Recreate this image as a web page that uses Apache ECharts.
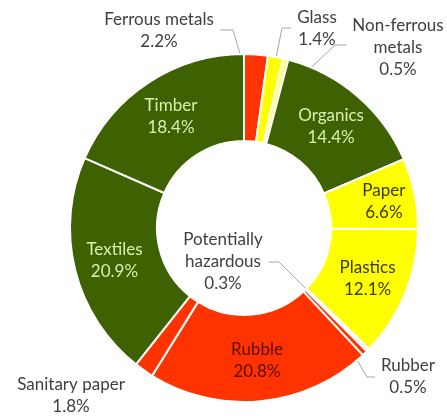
<!DOCTYPE html>
<html>
<head>
<meta charset="utf-8">
<script src="https://cdn.jsdelivr.net/npm/echarts@6/dist/echarts.min.js"></script>
<style>
  html, body { margin: 0; padding: 0; background: #ffffff; }
  #main { width: 447px; height: 416px; }
</style>
</head>
<body>
<div id="main"></div>
<script>
// Waste composition, share of total mass (%)
const categories = [
  'Ferrous metals', 'Glass', 'Non-ferrous metals', 'Organics', 'Paper', 'Plastics',
  'Potentially hazardous', 'Rubber', 'Rubble', 'Sanitary paper', 'Textiles', 'Timber'
];
const shares = [2.2, 1.4, 0.5, 14.4, 6.6, 12.1, 0.3, 0.5, 20.8, 1.8, 20.9, 18.4];
// Category names as they are printed (line breaks included)
const labelNames = [
  'Ferrous metals', 'Glass', 'Non-ferrous\nmetals', 'Organics', 'Paper', 'Plastics',
  'Potentially\nhazardous', 'Rubber', 'Rubble', 'Sanitary paper', 'Textiles', 'Timber'
];

// ---- styling ----
const GREEN = '#3e6101', RED = '#ff3300', YELLOW = '#ffff00';
const sliceColors = {
  'Ferrous metals': RED, 'Glass': YELLOW, 'Non-ferrous metals': '#ffff7a',
  'Organics': GREEN, 'Paper': YELLOW, 'Plastics': YELLOW,
  'Potentially hazardous': '#eeeeee', 'Rubber': RED, 'Rubble': RED,
  'Sanitary paper': RED, 'Textiles': GREEN, 'Timber': GREEN
};
const inkOn = { [GREEN]: '#d9efb0', [YELLOW]: '#3a3a00', [RED]: '#5a0c00' };
const OUT_INK = '#404040';
const LEADER = '#a6a6a6';

const CENTER = [244, 228];
const RADII = [87, 174];

// Labels placed inside their slice (optional nudge)
const insideLabels = { 'Organics': {}, 'Paper': { dx: 9 }, 'Plastics': {}, 'Rubble': {}, 'Textiles': {}, 'Timber': {} };
// Callout labels: label centre, which side the leader leaves from, leader height and elbow x
const callouts = {
  'Ferrous metals':        { x: 159, y: 31,  side: 'right', ly: 30,  elbow: 233 },
  'Glass':                 { x: 317, y: 29,  side: 'left',  ly: 28,  elbow: 282 },
  'Non-ferrous metals':    { x: 398, y: 48,  side: 'left',  ly: 45,  elbow: 335 },
  'Potentially hazardous': { x: 223, y: 262, side: 'right', ly: 262, elbow: 279 },
  'Rubber':                { x: 408, y: 377, side: 'left',  ly: 377, elbow: 367 },
  'Sanitary paper':        { x: 71,  y: 396, side: null }
};

const FONT = 'Lato, "Open Sans", sans-serif';
const FONT_SIZE = 17;
const LINE_H = 22;

const chart = echarts.init(document.getElementById('main'), null, { renderer: 'canvas' });

const data = categories.map((name, i) => {
  const color = sliceColors[name];
  const inside = name in insideLabels;
  return {
    name: name,
    value: shares[i],
    itemStyle: { color: color },
    label: {
      position: inside ? 'inside' : 'outside',
      color: inside ? inkOn[color] : OUT_INK,
      formatter: labelNames[i] + '\n' + shares[i].toFixed(1) + '%'
    },
    labelLine: {
      show: !inside && !!(callouts[name] && callouts[name].side),
      lineStyle: { color: LEADER, width: 1 }
    }
  };
});

function sliceAnchor(idx) {
  const lay = chart.getModel().getSeriesByIndex(0).getData().getItemLayout(idx);
  const mid = (lay.startAngle + lay.endAngle) / 2;
  const rm = (lay.r + lay.r0) / 2;
  return [lay.cx + rm * Math.cos(mid), lay.cy + rm * Math.sin(mid)];
}

chart.setOption({
  animation: false,
  backgroundColor: '#ffffff',
  series: [{
    type: 'pie',
    center: CENTER,
    radius: RADII,
    startAngle: 90,
    clockwise: true,
    avoidLabelOverlap: false,
    itemStyle: { borderColor: '#ffffff', borderWidth: 2 },
    label: {
      fontFamily: FONT,
      fontSize: FONT_SIZE,
      lineHeight: LINE_H,
      align: 'center'
    },
    labelLine: { show: false },
    data: data,
    labelLayout: function (params) {
      const name = categories[params.dataIndex];
      if (name in insideLabels) {
        return insideLabels[name];
      }
      const c = callouts[name];
      const out = { x: c.x, y: c.y, align: 'center', verticalAlign: 'middle' };
      if (c.side) {
        const half = params.labelRect.width / 2;
        const startX = c.side === 'right' ? c.x + half + 6 : c.x - half - 6;
        out.labelLinePoints = [sliceAnchor(params.dataIndex), [c.elbow, c.ly], [startX, c.ly]];
      }
      return out;
    }
  }]
});
</script>
</body>
</html>
